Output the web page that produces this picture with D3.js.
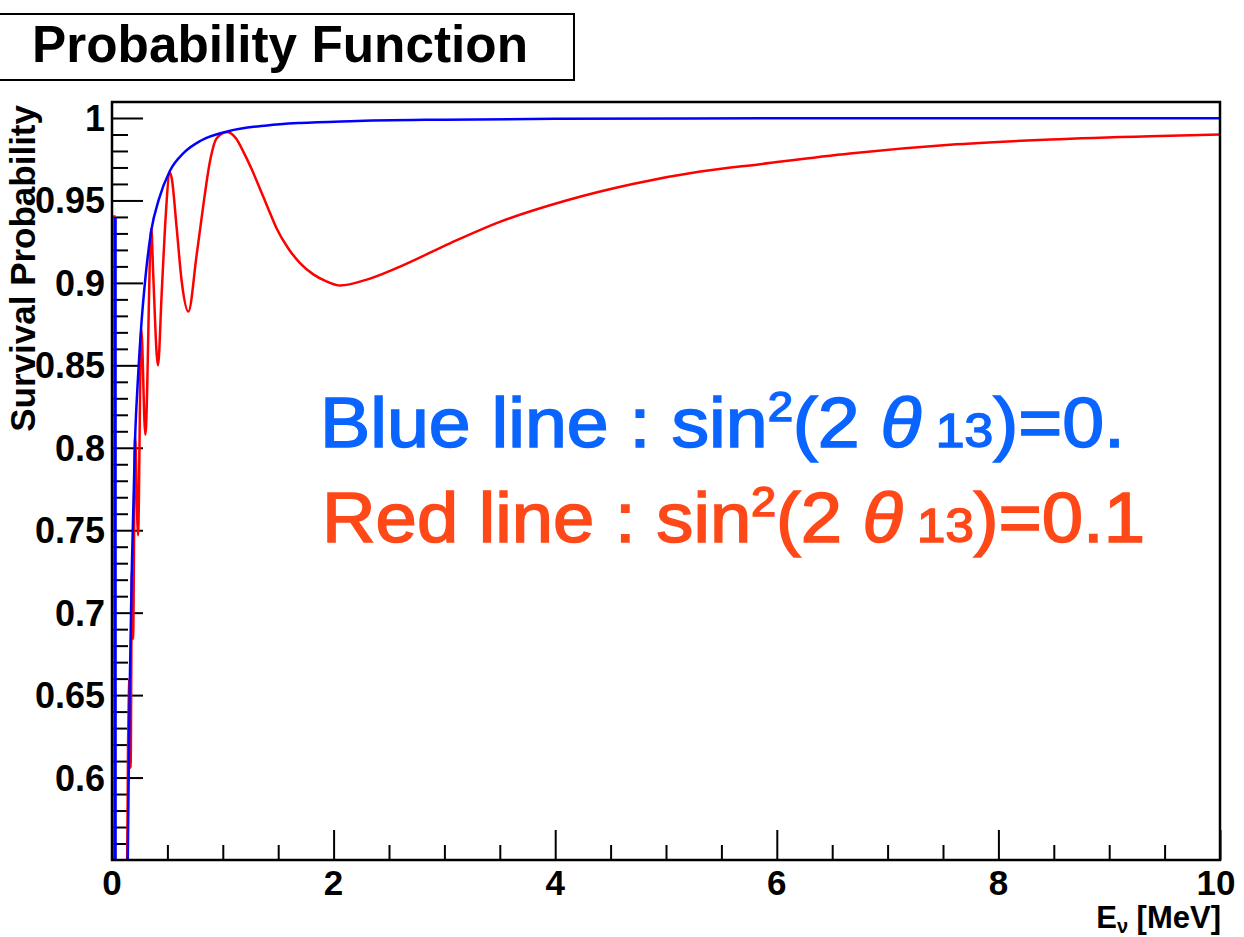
<!DOCTYPE html>
<html>
<head>
<meta charset="utf-8">
<script src="https://cdn.jsdelivr.net/npm/d3@7"></script>
<style>
  body { margin: 0; background: #fff; }
  svg { display: block; }
  text { font-family: "Liberation Sans", Arial, sans-serif; }
</style>
</head>
<body>
<div id="graphic"></div>
<script>
// Values
const xTicks = [0, 2, 4, 6, 8, 10];
const yTicks = [0.6, 0.65, 0.7, 0.75, 0.8, 0.85, 0.9, 0.95, 1];

// red curve: sin^2(2 theta13) = 0.1
const redE = [0.120, 0.145, 0.158, 0.168, 0.180, 0.190, 0.208, 0.235, 0.264, 0.301,
  0.355, 0.372, 0.415, 0.448, 0.478, 0.523, 0.539, 0.584, 0.629, 0.689,
  0.764, 0.824, 0.884, 0.945, 1.040, 1.120, 1.185, 1.260, 1.336, 1.410, 1.486,
  1.590, 1.697, 1.820, 1.940, 2.060, 2.300, 2.600, 3.050, 3.500, 4.100, 4.700,
  5.310, 5.850, 6.660, 7.560, 8.470, 9.370, 10.00];
const redP = [0.400, 0.620, 0.660, 0.606, 0.725, 0.684, 0.807, 0.747, 0.872, 0.808,
  0.933, 0.905, 0.850, 0.893, 0.933, 0.967, 0.9635, 0.933, 0.901, 0.8826,
  0.917, 0.947, 0.9736, 0.9877, 0.9915, 0.9875, 0.9796, 0.969, 0.957, 0.945, 0.933,
  0.921, 0.912, 0.905, 0.9008, 0.8984, 0.902, 0.9099, 0.924, 0.937, 0.950, 0.960,
  0.9675, 0.972, 0.9785, 0.9838, 0.987, 0.989, 0.990];

// blue curve: sin^2(2 theta13) = 0
const blueE = [0.130, 0.144, 0.160, 0.180, 0.208, 0.235, 0.264, 0.300, 0.355, 0.420,
  0.523, 0.650, 0.800, 1.050, 1.400, 1.700, 2.150, 3.000, 4.000, 6.000, 10.00];
const blueP = [0.480, 0.560, 0.655, 0.730, 0.805, 0.843, 0.874, 0.902, 0.932, 0.950,
  0.968, 0.979, 0.9862, 0.992, 0.9955, 0.9970, 0.9981, 0.9990, 0.9995, 0.9998, 0.9999];

// spikes at the very left edge of the frame
const redSpikeE = [0.022, 0.022];
const redSpikeP = [0.941, 0.40];
const blueSpikeE = [0.03, 0.03];
const blueSpikeP = [0.94, 0.40];

const W = 1244, H = 937;
const frameL = 112, frameR = 1220, frameT = 102, frameB = 860;

const svg = d3.select("#graphic").append("svg")
  .attr("width", W).attr("height", H);

const x = d3.scaleLinear().domain([0, 10]).range([frameL, frameR]);
const y = d3.scaleLinear().domain([0.55, 1.0097]).range([frameB, frameT]);

// title box
svg.append("rect")
  .attr("x", -2).attr("y", 14).attr("width", 576).attr("height", 66)
  .attr("fill", "#fff").attr("stroke", "#000").attr("stroke-width", 2);
svg.append("text")
  .attr("x", 32).attr("y", 62)
  .attr("font-size", 52).attr("font-weight", "bold")
  .attr("textLength", 496).attr("lengthAdjust", "spacingAndGlyphs")
  .text("Probability Function");

// clip for curves
svg.append("clipPath").attr("id", "frame")
  .append("rect").attr("x", frameL).attr("y", frameT)
  .attr("width", frameR - frameL).attr("height", frameB - frameT);

// axes
const xAxis = svg.append("g")
  .attr("transform", `translate(0,${frameB})`)
  .call(d3.axisBottom(x).tickValues(d3.range(0, 10.01, 0.5))
    .tickSize(0).tickFormat(""));
xAxis.select(".domain").remove();
xAxis.selectAll(".tick line")
  .attr("y2", d => Math.abs(d % 2) < 1e-6 ? -30 : -15)
  .attr("stroke", "#000").attr("stroke-width", 2);

const yAxis = svg.append("g")
  .attr("transform", `translate(${frameL},0)`)
  .call(d3.axisLeft(y).tickValues(d3.range(0.56, 1.0001, 0.01))
    .tickSize(0).tickFormat(""));
yAxis.select(".domain").remove();
yAxis.selectAll(".tick line")
  .attr("x2", d => Math.abs(Math.round(d * 100) % 5) === 0 ? 31 : 16)
  .attr("stroke", "#000").attr("stroke-width", 2);

// tick labels
svg.append("g").selectAll("text").data(xTicks).join("text")
  .attr("x", d => d === 10 ? x(d) - 4 : x(d)).attr("y", 895)
  .attr("text-anchor", "middle")
  .attr("font-size", 35).attr("font-weight", "bold")
  .text(d => d);

svg.append("g").selectAll("text").data(yTicks).join("text")
  .attr("x", 105).attr("y", d => y(d) + 13)
  .attr("text-anchor", "end")
  .attr("font-size", 36).attr("font-weight", "bold")
  .text(d => d3.format("")(d));

// axis titles
const xt = svg.append("text")
  .attr("x", 1221).attr("y", 928)
  .attr("text-anchor", "end")
  .attr("font-size", 31).attr("font-weight", "bold");
xt.append("tspan").text("E");
xt.append("tspan").attr("font-size", 20).attr("dy", 5).text("ν");
xt.append("tspan").attr("dy", -5).text(" [MeV]");

svg.append("text")
  .attr("transform", "translate(35,105) rotate(-90)")
  .attr("text-anchor", "end")
  .attr("font-size", 35).attr("font-weight", "bold")
  .text("Survival Probability");

// curves
const line = d3.line()
  .x(d => x(d[0])).y(d => y(d[1]))
  .curve(d3.curveMonotoneX);
const straight = d3.line().x(d => x(d[0])).y(d => y(d[1]));

const curves = svg.append("g").attr("clip-path", "url(#frame)");

curves.append("path")
  .datum(d3.zip(redSpikeE, redSpikeP))
  .attr("d", straight).attr("fill", "none")
  .attr("stroke", "#ff0000").attr("stroke-width", 2.5);
curves.append("path")
  .datum(d3.zip(redE, redP))
  .attr("d", line).attr("fill", "none")
  .attr("stroke", "#ff0000").attr("stroke-width", 2.5);
curves.append("path")
  .datum(d3.zip(blueSpikeE, blueSpikeP))
  .attr("d", straight).attr("fill", "none")
  .attr("stroke", "#0000ff").attr("stroke-width", 3);
curves.append("path")
  .datum(d3.zip(blueE, blueP))
  .attr("d", line).attr("fill", "none")
  .attr("stroke", "#0000ff").attr("stroke-width", 2.5);

// frame
svg.append("rect")
  .attr("x", frameL).attr("y", frameT)
  .attr("width", frameR - frameL).attr("height", frameB - frameT)
  .attr("fill", "none").attr("stroke", "#000").attr("stroke-width", 2.5);

// annotations (medium weight: regular glyphs with a thin outline)
function label(xPos, yPos, len, color, text, value) {
  const t = svg.append("text")
    .attr("x", xPos).attr("y", yPos)
    .attr("fill", color)
    .attr("stroke", color).attr("stroke-width", 1.6)
    .attr("font-family", "'Noto Sans CJK JP', 'Noto Sans', sans-serif")
    .attr("font-size", 70)
    .attr("textLength", len).attr("lengthAdjust", "spacingAndGlyphs");
  t.append("tspan").text(text + " : sin");
  t.append("tspan").attr("font-size", 42).attr("dy", -26).text("2");
  t.append("tspan").attr("dy", 26).text("(2 ");
  t.append("tspan").attr("font-style", "italic").text("θ");
  t.append("tspan").attr("font-size", 48).text(" 13");
  t.append("tspan").text(")=" + value);
  return t;
}
label(320, 447, 805, "#0a64ff", "Blue line", "0.");
label(322, 542, 823, "#ff4818", "Red line", "0.1");
</script>
</body>
</html>
